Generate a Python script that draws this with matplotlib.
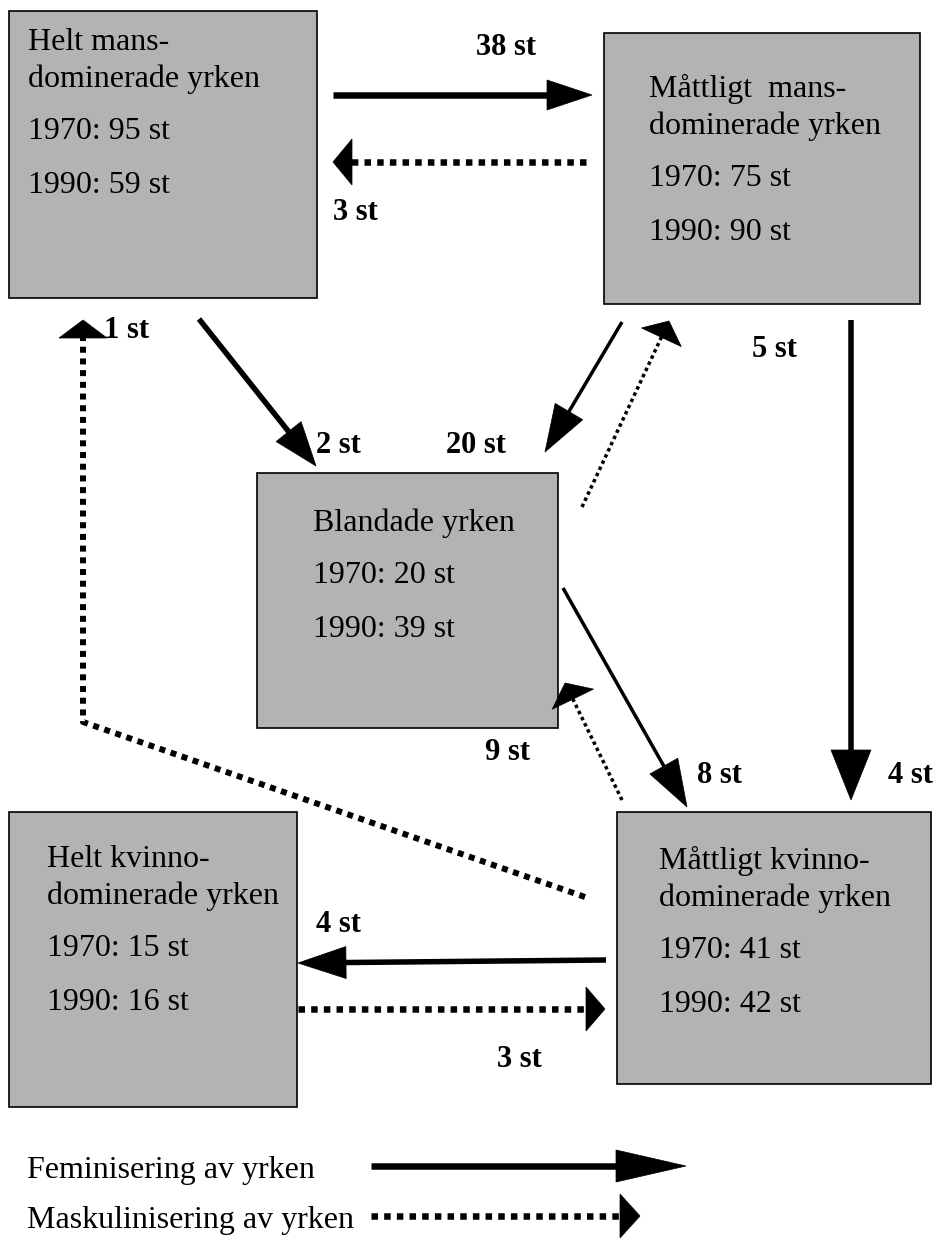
import numpy as np
import matplotlib
matplotlib.use("Agg")
import matplotlib.pyplot as plt
from matplotlib.patches import Rectangle, Polygon

plt.rcParams['font.family'] = ['Liberation Serif', 'DejaVu Serif']

W, H = 941, 1245

# boxes: x0, y0, x1, y1 in picture pixels
box_rects = [(9, 11, 317, 298), (604, 33, 920, 304), (257, 473, 558, 728),
             (9, 812, 297, 1107), (617, 812, 931, 1084)]
box_names = [["Helt mans-", "dominerade yrken"],
             ["Måttligt  mans-", "dominerade yrken"],
             ["Blandade yrken"],
             ["Helt kvinno-", "dominerade yrken"],
             ["Måttligt kvinno-", "dominerade yrken"]]
count_1970 = [95, 75, 20, 15, 41]
count_1990 = [59, 90, 39, 16, 42]
text_x = [28, 649, 313, 47, 659]
text_y0 = [50, 97, 531, 867, 869]

# flows: path, kind ('fem' solid / 'mask' dotted), line width px, head length, head half width
flow_paths = [
    [(333, 95), (592, 95)],
    [(586, 162), (333, 162)],
    [(585, 897), (83, 722), (83, 320)],
    [(199, 319), (316, 466)],
    [(622, 322), (545, 452)],
    [(582, 507), (669, 321)],
    [(851, 320), (851, 800)],
    [(563, 588), (687, 807)],
    [(622, 800), (565, 683)],
    [(606, 960), (298, 963)],
    [(298, 1009), (605, 1009)],
]
flow_kind = ['fem', 'mask', 'mask', 'fem', 'fem', 'mask', 'fem', 'fem', 'mask', 'fem', 'mask']
flow_lw = [6.5, 6.5, 6, 5.5, 3.5, 3.5, 5.5, 3.5, 3.5, 5.5, 6.5]
flow_head = [(45, 15), (19, 23), (18, 24), (44, 16), (47, 16), (18, 22),
             (50, 20), (47, 16), (18, 23), (48, 16), (19, 22)]

flow_labels = ["38 st", "3 st", "1 st", "2 st", "20 st", "5 st",
               "4 st", "8 st", "9 st", "4 st", "3 st"]
label_pos = [(476, 55), (333, 220), (104, 338), (316, 453), (446, 453), (752, 357),
             (888, 783), (697, 783), (485, 760), (316, 932), (497, 1067)]

legend_text = ["Feminisering av yrken", "Maskulinisering av yrken"]
legend_text_pos = [(27, 1178), (27, 1228)]
legend_paths = [[(371, 1166), (686, 1166)], [(371, 1216), (640, 1216)]]
legend_kind = ['fem', 'mask']
legend_lw = [6.5, 6.5]
legend_head = [(70, 16), (20, 22)]


def px2pt(v):
    return v * 72.0 / 100.0


def draw_arrow(ax, pts, kind, lw, head):
    pts = np.array(pts, dtype=float)
    hl, hw = head
    tip = pts[-1]
    d = pts[-1] - pts[-2]
    u = d / np.hypot(*d)
    n = np.array([-u[1], u[0]])
    base = tip - hl * u
    line = pts.copy()
    line[-1] = base + 2 * u
    if kind == 'fem':
        ax.plot(line[:, 0], line[:, 1], color='black', lw=px2pt(lw),
                solid_capstyle='butt', solid_joinstyle='miter')
    else:
        ax.plot(line[:, 0], line[:, 1], color='black', lw=px2pt(lw),
                linestyle=(0, (1.0, 0.95)), dash_capstyle='butt')
    ax.add_patch(Polygon([tip, base + hw * n, base - hw * n], closed=True,
                         facecolor='black', edgecolor='black', lw=0.5))


fig = plt.figure(figsize=(W / 100, H / 100), dpi=100)
ax = fig.add_axes([0, 0, 1, 1])
ax.set_xlim(0, W)
ax.set_ylim(H, 0)
ax.axis('off')

for i, (x0, y0, x1, y1) in enumerate(box_rects):
    ax.add_patch(Rectangle((x0, y0), x1 - x0, y1 - y0, facecolor='#b3b3b3',
                           edgecolor='black', lw=1.2))
    y = text_y0[i]
    for name in box_names[i]:
        ax.text(text_x[i], y, name, fontsize=23, va='baseline', ha='left')
        y += 37
    y += 15
    ax.text(text_x[i], y, f"1970: {count_1970[i]} st", fontsize=23, va='baseline', ha='left')
    y += 54
    ax.text(text_x[i], y, f"1990: {count_1990[i]} st", fontsize=23, va='baseline', ha='left')

for p, k, lw, hd in zip(flow_paths, flow_kind, flow_lw, flow_head):
    draw_arrow(ax, p, k, lw, hd)

for lab, (x, y) in zip(flow_labels, label_pos):
    ax.text(x, y, lab, fontsize=22, fontweight='bold', va='baseline', ha='left')

for t, (x, y) in zip(legend_text, legend_text_pos):
    ax.text(x, y, t, fontsize=23, va='baseline', ha='left')
for p, k, lw, hd in zip(legend_paths, legend_kind, legend_lw, legend_head):
    draw_arrow(ax, p, k, lw, hd)

fig.savefig("out.png", dpi=100, facecolor='white')
